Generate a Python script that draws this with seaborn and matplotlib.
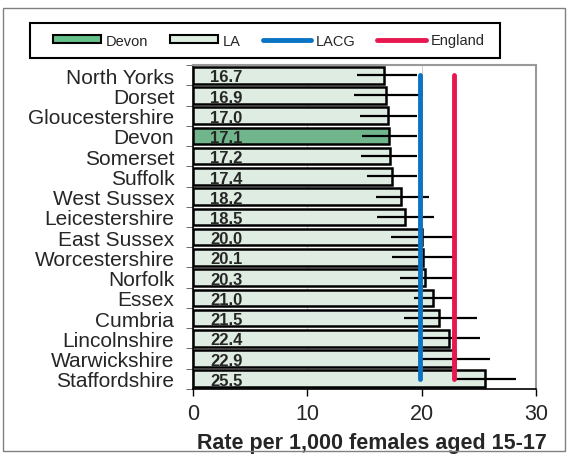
import matplotlib
matplotlib.use("Agg")
import matplotlib.pyplot as plt
import numpy as np
import pandas as pd
import seaborn as sns
from matplotlib.lines import Line2D
from matplotlib.patches import Patch, Rectangle

areas = ["North Yorks", "Dorset", "Gloucestershire", "Devon", "Somerset", "Suffolk",
         "West Sussex", "Leicestershire", "East Sussex", "Worcestershire", "Norfolk",
         "Essex", "Cumbria", "Lincolnshire", "Warwickshire", "Staffordshire"]
rates = [16.7, 16.9, 17.0, 17.1, 17.2, 17.4, 18.2, 18.5, 20.0, 20.1, 20.3,
         21.0, 21.5, 22.4, 22.9, 25.5]
lower = [14.3, 14.1, 14.6, 14.8, 14.7, 15.2, 16.0, 16.1, 17.3, 17.4, 18.1,
         19.3, 18.4, 20.0, 20.0, 22.9]
upper = [19.6, 20.1, 19.6, 19.6, 19.6, 19.6, 20.6, 21.1, 22.9, 23.0, 22.7,
         22.7, 24.8, 25.1, 26.0, 28.2]
lacg = 19.8
england = 22.8

devon_col = "#66c08a"
la_col = "#ddeee1"
lacg_col = "#0a74c4"
eng_col = "#e8174f"

df = pd.DataFrame({"area": areas, "rate": rates})
df["group"] = np.where(df["area"] == "Devon", "Devon", "LA")

sns.set_style("white")
plt.rcParams["font.family"] = ["Liberation Sans", "DejaVu Sans"]

fig = plt.figure(figsize=(5.68, 4.56), dpi=100)
ax = fig.add_axes([0.340, 0.145, 0.604, 0.710])

sns.barplot(data=df, x="rate", y="area", hue="group", dodge=False,
            palette={"Devon": devon_col, "LA": la_col}, edgecolor="black",
            linewidth=1.8, width=0.82, legend=False, ax=ax, zorder=2)

ypos = np.arange(len(areas))
r = np.array(rates)
ax.errorbar(r, ypos, xerr=[r - np.array(lower), np.array(upper) - r],
            fmt="none", ecolor="black", elinewidth=1.6, capsize=0, zorder=3)

ax.plot([lacg, lacg], [0, len(areas) - 1], color=lacg_col, lw=3.5,
        solid_capstyle="round", zorder=4)
ax.plot([england, england], [0, len(areas) - 1], color=eng_col, lw=3.5,
        solid_capstyle="round", zorder=4)

for y, v in zip(ypos, rates):
    ax.text(1.5, y + 0.08, f"{v:.1f}", va="center", ha="left",
            fontsize=12, fontweight="bold", zorder=5)

ax.set_xlim(0, 30)
ax.set_ylim(len(areas) - 0.5, -0.5)
ax.set_xticks([0, 10, 20, 30])
ax.tick_params(axis="x", labelsize=15.5, length=5, width=1, color="black",
               direction="out", pad=5, bottom=True)
ax.set_yticks(ypos)
ax.set_yticklabels(areas)
ax.tick_params(axis="y", which="major", labelsize=15, length=0, pad=13.5)
ax.set_yticks(np.arange(-0.5, len(areas), 1), minor=True)
ax.tick_params(axis="y", which="minor", length=5, color="#555555", left=True)
ax.xaxis.grid(True, color="#d0d0d0", lw=0.8)
ax.set_axisbelow(True)
ax.set_ylabel("")
ax.set_xlabel("Rate per 1,000 females aged 15-17", fontsize=15.5,
              fontweight="bold", labelpad=6, x=0.52)

for s in ["left", "bottom"]:
    ax.spines[s].set_color("black")
    ax.spines[s].set_linewidth(1.2)
for s in ["top", "right"]:
    ax.spines[s].set_color("#999999")
    ax.spines[s].set_linewidth(1.5)

# legend: entries centred, box drawn separately
handles = [
    Patch(facecolor=devon_col, edgecolor="black", linewidth=1.5, label="Devon"),
    Patch(facecolor=la_col, edgecolor="black", linewidth=1.5, label="LA"),
    Line2D([], [], color=lacg_col, lw=3.5, solid_capstyle="round", label="LACG"),
    Line2D([], [], color=eng_col, lw=3.5, solid_capstyle="round", label="England"),
]
fig.legend(handles=handles, loc="center", ncol=4,
           bbox_to_anchor=(268.5 / 568, 1 - 41.5 / 456),
           frameon=False, fontsize=10.5, handlelength=3.3, handleheight=0.5,
           handletextpad=0.34, columnspacing=1.5, borderaxespad=0, borderpad=0)
fig.patches.append(Rectangle((30 / 568, 1 - 59 / 456), 470 / 568, 35 / 456,
                             transform=fig.transFigure, fill=False,
                             edgecolor="black", linewidth=1.5))

fig.patches.append(Rectangle((0.006, 0.009), 0.988, 0.972, transform=fig.transFigure,
                             fill=False, edgecolor="#808080", linewidth=1.0))

fig.savefig("out.png", dpi=100)
plt.close(fig)
